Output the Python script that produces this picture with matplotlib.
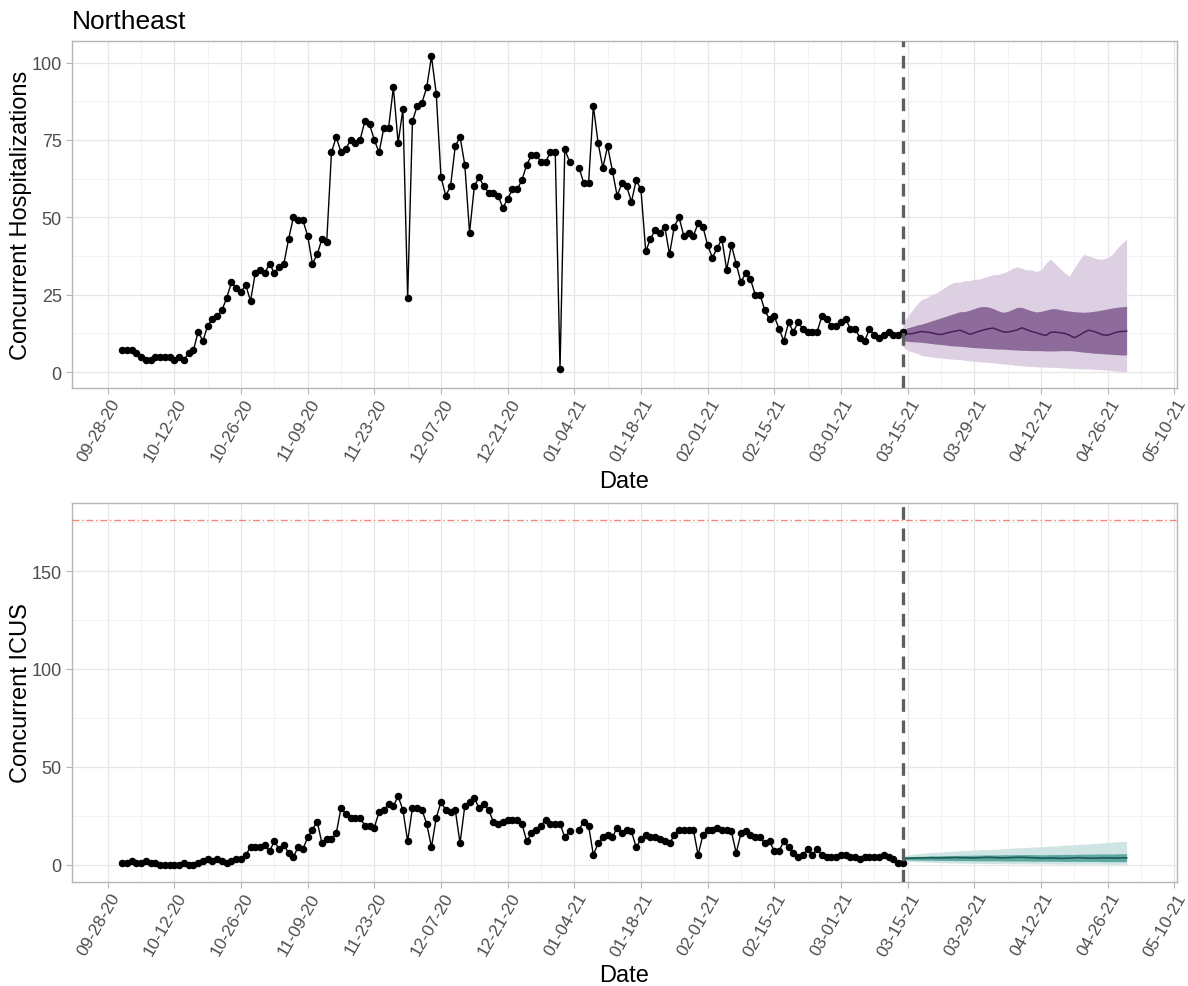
import numpy as np
import pandas as pd
import matplotlib
matplotlib.use("Agg")
import matplotlib.pyplot as plt
import matplotlib.dates as mdates
from matplotlib.transforms import ScaledTranslation

plt.rcParams["font.family"] = ["Liberation Sans", "DejaVu Sans"]

nan = np.nan

# observed daily counts, 10-01-20 .. 03-14-21
hosp_obs = [
    7, 7, 7, 6, 5, 4, 4, 5, 5, 5, 5, 4, 5, 4, 6, 7, 13, 10, 15, 17,
    18, 20, 24, 29, 27, 26, 28, 23, 32, 33, 32, 35, 32, 34, 35, 43, 50, 49, 49, 44,
    35, 38, 43, 42, 71, 76, 71, 72, 75, 74, 75, 81, 80, 75, 71, 79, 79, 92, 74,
    85, 24, 81, 86, 87, 92, 102, 90, 63, 57, 60, 73, 76, 67, 45, 60, 63, 60, 58, 58,
    57, 53, 56, 59, 59, 62, 67, 70, 70, 68, 68, 71, 71, 1, 72, 68, nan, 66, 61, 61,
    86, 74, 66, 73, 65, 57, 61, 60, 55, 62, 59, 39, 43, 46, 45, 47, 38, 47,
    50, 44, 45, 44, 48, 47, 41, 37, 40, 43, 33, 41, 35, 29, 32, 30, 25, 25, 20, 17,
    18, 14, 10, 16, 13, 16, 14, 13, 13, 13, 18, 17, 15, 15, 16, 17, 14, 14, 11, 10,
    14, 12, 11, 12, 13, 12, 12, 13,
]
icu_obs = [
    1, 1, 2, 1, 1, 2, 1, 1, 0, 0, 0, 0, 0, 1, 0, 0, 1, 2, 3, 2,
    3, 2, 1, 2, 3, 3, 5, 9, 9, 9, 10, 7, 12, 8, 10, 6, 4, 9, 8, 14,
    18, 22, 11, 13, 13, 16, 29, 26, 24, 24, 24, 20, 20, 19, 27, 28, 31, 30, 35,
    28, 12, 29, 29, 28, 21, 9, 24, 32, 28, 27, 28, 11, 30, 32, 34, 29, 31, 28, 22,
    21, 22, 23, 23, 23, 21, 12, 16, 18, 20, 23, 21, 21, 21, 14, 17, nan, 18, 22, 20,
    5, 11, 14, 15, 14, 19, 16, 18, 17, 9, 13, 15, 14, 14, 13, 12, 11, 15,
    18, 18, 18, 18, 5, 15, 18, 18, 19, 18, 18, 17, 6, 16, 17, 15, 14, 14, 11, 12,
    7, 7, 12, 9, 6, 4, 5, 8, 5, 8, 5, 4, 4, 4, 5, 5, 4, 4, 3, 4,
    4, 4, 4, 5, 4, 3, 1, 1,
]

# forecast, 03-14-21 .. 04-30-21
hosp_med = [12.8, 12.3, 12.4, 12.8, 13.1, 12.9, 12.7, 12.3, 12.1, 12.5, 12.9, 13.2, 13.5, 12.9, 12.2, 12.6,
            13.2, 13.6, 14.0, 14.2, 13.6, 13.0, 12.9, 13.2, 13.6, 14.3, 13.7, 13.1, 12.7, 12.2, 11.8, 12.8,
            12.9, 12.7, 12.5, 11.9, 11.1, 11.8, 12.8, 13.5, 13.2, 12.6, 12.0, 11.9, 12.4, 12.9, 13.1, 13.2]
hosp_hi50 = [13.6, 14.3, 14.7, 15.2, 15.5, 16, 16.5, 17, 17.5, 18, 18.5, 19, 19.5, 19.5, 20, 20.5,
             21, 21.2, 21, 20.5, 19.8, 19.3, 19.6, 20.2, 20.9, 20.9, 20.3, 19.8, 19.4, 19.6, 20, 20.4,
             20.5, 20.2, 19.9, 19.7, 19.5, 19.4, 19.3, 19.4, 19.6, 19.8, 20.1, 20.4, 20.7, 20.9, 21.1, 21.2]
hosp_lo50 = [10.1, 9.9, 9.8, 9.7, 9.6, 9.4, 9.2, 9.0, 8.9, 8.7, 8.5, 8.4, 8.3, 8.2, 8.0, 7.9,
             7.8, 7.7, 7.6, 7.5, 7.4, 7.4, 7.3, 7.2, 7.1, 7.0, 7.0, 6.9, 6.9, 6.9, 6.8, 6.8,
             6.8, 6.9, 6.9, 6.9, 6.8, 6.6, 6.4, 6.3, 6.1, 6.0, 5.9, 5.8, 5.7, 5.6, 5.5, 5.5]
hosp_hi95 = [16, 18, 20, 22, 23.5, 24, 25, 25.5, 26.5, 27.5, 28.5, 29, 29, 29.5, 29.5, 30,
             30, 30.5, 31, 31.5, 31.5, 32, 32.5, 33.5, 34, 33.5, 33, 33, 32.5, 33, 35, 36.5,
             35, 33.5, 32, 31, 33.5, 36, 38, 37.5, 37, 36.5, 36.5, 37, 38, 40, 41.5, 43]
hosp_lo95 = [8.0, 7.0, 6.5, 6.0, 5.3, 5.1, 4.9, 4.7, 4.5, 4.4, 4.2, 4.1, 4.0, 3.8, 3.6, 3.5,
             3.3, 3.2, 3.1, 3.0, 2.8, 2.6, 2.5, 2.3, 2.1, 2.0, 1.9, 1.8, 1.7, 1.6, 1.6, 1.5,
             1.5, 1.4, 1.3, 1.2, 1.2, 1.1, 1.0, 1.0, 0.9, 0.8, 0.7, 0.6, 0.4, 0.3, 0.2, 0.1]

icu_med = [3.2, 3.3, 3.4, 3.4, 3.5, 3.5, 3.6, 3.5, 3.5, 3.6, 3.6, 3.7, 3.6, 3.6, 3.5, 3.5,
           3.6, 3.7, 3.8, 3.7, 3.6, 3.5, 3.6, 3.7, 3.8, 3.8, 3.7, 3.6, 3.5, 3.3, 3.4, 3.5,
           3.4, 3.3, 3.3, 3.4, 3.5, 3.6, 3.5, 3.4, 3.3, 3.4, 3.5, 3.5, 3.4, 3.4, 3.5, 3.5]
icu_hi50 = [3.9, 4.1, 4.2, 4.3, 4.3, 4.4, 4.5, 4.5, 4.6, 4.6, 4.7, 4.7, 4.8, 4.8, 4.8, 4.9,
            4.9, 5.0, 5.0, 5.0, 5.0, 5.1, 5.1, 5.1, 5.2, 5.2, 5.2, 5.2, 5.1, 5.1, 5.1, 5.2,
            5.2, 5.2, 5.3, 5.3, 5.3, 5.4, 5.4, 5.4, 5.4, 5.5, 5.5, 5.5, 5.5, 5.6, 5.6, 5.6]
icu_lo50 = [2.6, 2.5, 2.4, 2.4, 2.3, 2.3, 2.3, 2.2, 2.2, 2.2, 2.2, 2.1, 2.1, 2.1, 2.1, 2.0,
            2.0, 2.0, 2.0, 2.0, 2.0, 1.9, 1.9, 1.9, 1.9, 1.9, 1.9, 1.8, 1.8, 1.8, 1.8, 1.8,
            1.8, 1.8, 1.7, 1.7, 1.7, 1.7, 1.7, 1.7, 1.7, 1.7, 1.6, 1.6, 1.6, 1.6, 1.6, 1.6]
icu_hi95 = [4.2, 5.0, 5.3, 5.6, 5.8, 6.0, 6.2, 6.4, 6.5, 6.7, 6.8, 7.0, 7.1, 7.2, 7.4, 7.5,
            7.6, 7.7, 7.8, 7.9, 8.0, 8.2, 8.3, 8.5, 8.6, 8.7, 8.8, 9.0, 9.1, 9.2, 9.3, 9.5,
            9.6, 9.8, 10.0, 10.1, 10.2, 10.4, 10.5, 10.6, 10.8, 11.0, 11.2, 11.4, 11.6, 11.8, 11.9, 12.0]
icu_lo95 = [2.2, 1.8, 1.6, 1.5, 1.4, 1.3, 1.2, 1.1, 1.0, 1.0, 0.9, 0.9, 0.8, 0.8, 0.8, 0.7,
            0.7, 0.7, 0.6, 0.6, 0.6, 0.6, 0.5, 0.5, 0.5, 0.5, 0.5, 0.4, 0.4, 0.4, 0.4, 0.4,
            0.4, 0.3, 0.3, 0.3, 0.3, 0.3, 0.3, 0.3, 0.3, 0.3, 0.3, 0.2, 0.2, 0.2, 0.2, 0.2]

icu_capacity = 176
cutoff = "2021-03-14"

obs_dates = pd.date_range("2020-10-01", cutoff, freq="D")
fc_dates = pd.date_range(cutoff, "2021-04-30", freq="D")

fig = plt.figure(figsize=(11.88, 9.87), dpi=100)
ax1 = fig.add_axes([0.0602, 0.6061, 0.9306, 0.3517])
ax2 = fig.add_axes([0.0602, 0.1054, 0.9306, 0.3840])

tick_dates = pd.date_range("2020-09-28", "2021-05-10", freq="14D")
minor_dates = pd.date_range("2020-10-05", "2021-05-03", freq="14D")
x0 = pd.Timestamp("2020-09-28")


def style(ax, ylim, yticks, yminor):
    ax.set_xlim(x0 - pd.Timedelta(days=7.6), x0 + pd.Timedelta(days=224.6))
    ax.set_ylim(*ylim)
    ax.set_xticks(tick_dates)
    ax.set_xticks(minor_dates, minor=True)
    ax.xaxis.set_major_formatter(mdates.DateFormatter("%m-%d-%y"))
    ax.set_yticks(yticks)
    ax.set_yticks(yminor, minor=True)
    ax.grid(which="major", color="#e6e6e6", lw=0.9, zorder=0)
    ax.grid(which="minor", color="#f1f1f1", lw=0.6, zorder=0)
    ax.set_axisbelow(True)
    for s in ax.spines.values():
        s.set_color("#b5b5b5")
        s.set_linewidth(1.0)
    ax.tick_params(which="major", length=4, width=0.8, color="#b5b5b5",
                   labelsize=13, labelcolor="#4d4d4d", pad=3)
    ax.tick_params(axis="x", which="major", labelsize=12.5, pad=2)
    ax.tick_params(which="minor", length=0)
    for lab in ax.get_xticklabels():
        lab.set_rotation(60)
        lab.set_ha("right")
        lab.set_va("top")
        lab.set_rotation_mode("anchor")
        lab.set_transform(lab.get_transform() + ScaledTranslation(0.02, 0, fig.dpi_scale_trans))


# top panel: hospitalizations
ax1.fill_between(fc_dates, hosp_lo95, hosp_hi95, color="#dcd0e2", lw=0, zorder=2)
ax1.fill_between(fc_dates, hosp_lo50, hosp_hi50, color="#8d6c9c", lw=0, zorder=3)
ax1.plot(fc_dates, hosp_med, color="#4a1f5c", lw=1.1, zorder=4)
ax1.plot(obs_dates, hosp_obs, color="black", lw=1.0, marker="o", ms=4.4, zorder=5)
ax1.axvline(pd.Timestamp(cutoff), color="#5f5f5f", lw=2.4, ls=(0, (3.8, 2.6)), zorder=6)
style(ax1, (-5.1, 107.1), [0, 25, 50, 75, 100], [12.5, 37.5, 62.5, 87.5])

# bottom panel: ICU
ax2.fill_between(fc_dates, icu_lo95, icu_hi95, color="#cfe5e3", lw=0, zorder=2)
ax2.fill_between(fc_dates, icu_lo50, icu_hi50, color="#5fa8a1", lw=0, zorder=3)
ax2.plot(fc_dates, icu_med, color="#1c5a55", lw=1.2, zorder=4)
ax2.plot(obs_dates, icu_obs, color="black", lw=1.0, marker="o", ms=4.4, zorder=5)
ax2.axhline(icu_capacity, color="#f08878", lw=1.0, ls=(0, (5, 2, 1, 2)), zorder=4)
ax2.axvline(pd.Timestamp(cutoff), color="#5f5f5f", lw=2.4, ls=(0, (3.8, 2.6)), zorder=6)
style(ax2, (-8.8, 184.8), [0, 50, 100, 150], [25, 75, 125, 175])

fig.text(0.0602, 0.9706, "Northeast", fontsize=19, ha="left", va="baseline")
fig.text(0.018, 0.7820, "Concurrent Hospitalizations", fontsize=17, rotation=90, ha="center", va="center")
fig.text(0.018, 0.2974, "Concurrent ICUS", fontsize=17, rotation=90, ha="center", va="center")
fig.text(0.525, 0.5117, "Date", fontsize=17, ha="center", va="center")
fig.text(0.525, 0.0112, "Date", fontsize=17, ha="center", va="center")

fig.savefig("out.png", dpi=100)
